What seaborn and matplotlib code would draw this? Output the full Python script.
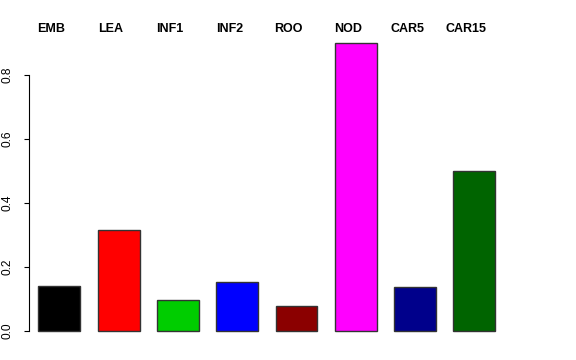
import matplotlib
matplotlib.use("Agg")
import matplotlib.pyplot as plt
import seaborn as sns
import pandas as pd

tissues = ["EMB", "LEA", "INF1", "INF2", "ROO", "NOD", "CAR5", "CAR15"]
values = [0.141, 0.317, 0.098, 0.154, 0.079, 0.901, 0.138, 0.499]
colors = ["#000000", "#FF0000", "#00CD00", "#0000FF",
          "#8B0000", "#FF00FF", "#00008B", "#006400"]
yticks = [0.0, 0.2, 0.4, 0.6, 0.8]

df = pd.DataFrame({"tissue": tissues, "value": values})

sns.set_style("white", {"text.color": "black", "ytick.color": "black",
                        "axes.edgecolor": "black"})
plt.rcParams["font.family"] = ["Liberation Sans", "DejaVu Sans"]

fig = plt.figure(figsize=(5.76, 3.6), dpi=100)
# axes placed in pixel terms of the 576x360 canvas
ax = fig.add_axes([29 / 576, 18 / 360, 485 / 576, 311 / 360])

sns.barplot(data=df, x="tissue", y="value", hue="tissue", palette=colors,
            legend=False, width=0.708, saturation=1, edgecolor="#333333",
            linewidth=1.0, ax=ax)

ax.set_xlim(-0.511, 7.668)
ax.set_ylim(-0.0344, 0.9375)
ax.set_xlabel("")
ax.set_ylabel("")
ax.set_xticks([])

ax.set_yticks(yticks)
ax.set_yticklabels([f"{t:.1f}" for t in yticks], rotation=90, va="center",
                   fontsize=8.6, color="black")
ax.tick_params(axis="y", length=3.6, width=0.8, pad=7.5, color="black",
               left=True)

for side in ["top", "right", "bottom"]:
    ax.spines[side].set_visible(False)
ax.spines["left"].set_bounds(0, 0.8)
ax.spines["left"].set_color("black")
ax.spines["left"].set_linewidth(0.8)

# bold names above the bars
for i, name in enumerate(tissues):
    ax.annotate(name, xy=(i, 1 - 29 / 360),
                xycoords=("data", "figure fraction"),
                xytext=(-8, 0), textcoords="offset pixels",
                ha="center", va="center", fontsize=9, fontweight="bold",
                color="black")

fig.savefig("out.png", dpi=100)
